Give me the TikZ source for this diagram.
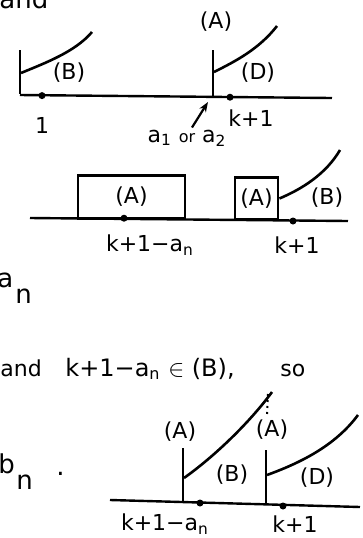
\documentclass[tikz,border=0pt]{standalone}
\usepackage{fontspec}
\setmainfont{DejaVu Sans}
\usetikzlibrary{arrows.meta, positioning}

\begin{document}
\begin{tikzpicture}[
    x=0.5pt, y=-0.5pt,
    lbl/.style={inner sep=0pt, font=\fontsize{11}{13}\selectfont},
    txt/.style={inner sep=0pt, anchor=base west, font=\fontsize{13}{15}\selectfont},
    axis/.style={line width=1.2pt},
    wall/.style={line width=1.4pt},
    curve/.style={line width=1.3pt},
    pt/.style={circle, fill, inner sep=0pt, minimum size=3.5pt},
    arr/.style={-{Stealth[length=5pt]}, line width=1.1pt},
]
\useasboundingbox (0,0) rectangle (363,538);

\node[txt] (andtop) at (-1,8) {and};
\node[txt] (atxt) at (-3,287) {a};
\node[txt] (antxt) at (15,303) {n};
\node[txt, font=\fontsize{11}{13}\selectfont] (andmid) at (0,376) {and};
\node[lbl, anchor=base west, font=\fontsize{12}{14}\selectfont] (claim) at (65,376) {k+1−a\textsubscript{n} $\in$ (B),};
\node[lbl, anchor=base west] (so) at (280,376) {so};
\node[txt] (btxt) at (-2,473) {b};
\node[txt] (bntxt) at (16,489) {n};
\node[txt] (period) at (56,475) {.};

\coordinate (l1) at (20,95);
\coordinate (r1) at (332,98);
\draw[axis] (l1) -- (r1);
\coordinate (w1top) at (20,50);
\coordinate (w1bot) at (20,94);
\draw[wall] (w1top) -- (w1bot);
\coordinate (c1s) at (21,73);
\coordinate (c1e) at (92,32);
\draw[curve] (c1s) .. controls (45,63) and (75,52) .. (c1e);
\node[lbl] (b1) at (69,73) {(B)};
\node[pt] (one) at (42,95.6) {};
\node[lbl, below=9pt of one] (onelbl) {1};
\coordinate (w2top) at (213,50);
\coordinate (w2bot) at (213,96);
\draw[wall] (w2top) -- (w2bot);
\node[lbl] (a1) at (216,22) {(A)};
\coordinate (c2s) at (214,72);
\coordinate (c2e) at (277,26);
\draw[curve] (c2s) .. controls (236,61) and (259,49) .. (c2e);
\node[lbl] (d1) at (258,73) {(D)};
\node[pt] (kone) at (230,97.2) {};
\node[lbl] (konelbl) at (251,118) {k+1};
\node[lbl] (aora) at (187,138) {a\textsubscript{1} {\footnotesize or} a\textsubscript{2}};
\coordinate (tip) at (208,102);
\draw[arr] (aora.north) ++(5,-2) coordinate (tail) (tail) -- (tip);

\coordinate (l2) at (30,218);
\coordinate (r2) at (348,221);
\draw[axis] (l2) -- (r2);
\node[draw, wall, minimum width=107*0.5pt, minimum height=43*0.5pt, inner sep=0pt] (bigbox) at (131.5,197) {};
\node[lbl] (a2) at (bigbox) {(A)};
\node[pt] (kn) at (124,218.2) {};
\node[lbl] (knlbl) at (150,245) {k+1−a\textsubscript{n}};
\node[draw, wall, minimum width=43*0.5pt, minimum height=42*0.5pt, inner sep=0pt] (smallbox) at (256.5,198.5) {};
\node[lbl] (a3) at (smallbox) {(A)};
\coordinate (c3e) at (340,150);
\draw[curve] (smallbox.east) .. controls (302,189) and (326,174) .. (c3e);
\node[lbl] (b2) at (327,198) {(B)};
\node[pt] (k2) at (293,221) {};
\node[lbl] (k2lbl) at (297,245) {k+1};

\coordinate (l3) at (110,500);
\coordinate (r3) at (360,507);
\draw[axis] (l3) -- (r3);
\coordinate (w3top) at (183,448);
\coordinate (w3bot) at (183,502);
\draw[wall] (w3top) -- (w3bot);
\node[lbl] (a4) at (180,432) {(A)};
\coordinate (c4s) at (184,478);
\coordinate (c4e) at (272,392);
\draw[curve] (c4s) .. controls (215,456) and (250,422) .. (c4e);
\coordinate (dtop) at (268,394);
\coordinate (dbot) at (267,415);
\draw[line width=1pt, dotted] (dtop) -- (dbot);
\node[lbl] (a5) at (272,430) {(A)};
\coordinate (w4top) at (266,450);
\coordinate (w4bot) at (266,504);
\draw[wall] (w4top) -- (w4bot);
\coordinate (c5s) at (267,475);
\coordinate (c5e) at (358,415);
\draw[curve] (c5s) .. controls (300,463) and (335,446) .. (c5e);
\node[lbl] (b3) at (232,475) {(B)};
\node[lbl] (d3) at (317,478) {(D)};
\node[pt] (kn3) at (200,503) {};
\node[lbl] (kn3lbl) at (165,524) {k+1−a\textsubscript{n}};
\node[pt] (k3) at (283,506) {};
\node[lbl] (k3lbl) at (295,524) {k+1};
\end{tikzpicture}
\end{document}
